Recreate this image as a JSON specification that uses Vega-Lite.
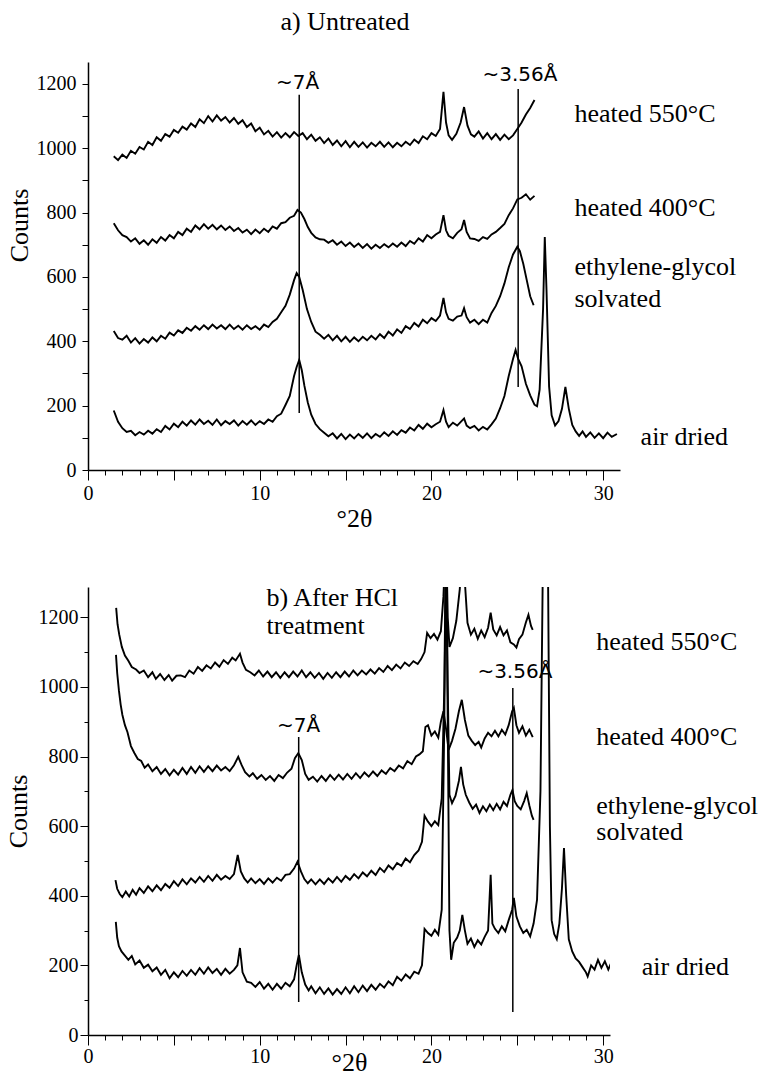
{
"$schema":"https://vega.github.io/schema/vega-lite/v6.json",
"padding":{"left":5,"top":9,"right":0,"bottom":0},
"background":"white",
"config":{"view":{"stroke":null},"axis":{"grid":false,"domainColor":"black","tickColor":"black","labelColor":"black","titleColor":"black","labelFont":"Liberation Serif","titleFont":"Liberation Serif","labelFontSize":20,"titleFontSize":26,"titleFontWeight":"normal","domainWidth":1.5,"tickWidth":1,"labelFlush":false,"labelOverlap":false,"format":"d"}},
"datasets":{
"A":[
{"s":"ad","x":1.5,"y":185},{"s":"ad","x":1.75,"y":150},{"s":"ad","x":2.0,"y":130},{"s":"ad","x":2.25,"y":118},{"s":"ad","x":2.5,"y":122},{"s":"ad","x":2.75,"y":108},{"s":"ad","x":3.0,"y":118},{"s":"ad","x":3.25,"y":110},{"s":"ad","x":3.5,"y":122},{"s":"ad","x":3.75,"y":113},{"s":"ad","x":4.0,"y":127},{"s":"ad","x":4.25,"y":118},{"s":"ad","x":4.5,"y":137},{"s":"ad","x":4.75,"y":126},{"s":"ad","x":5.0,"y":144},{"s":"ad","x":5.25,"y":133},{"s":"ad","x":5.5,"y":150},{"s":"ad","x":5.75,"y":138},{"s":"ad","x":6.0,"y":154},{"s":"ad","x":6.25,"y":141},{"s":"ad","x":6.5,"y":157},{"s":"ad","x":6.75,"y":143},{"s":"ad","x":7.0,"y":153},{"s":"ad","x":7.25,"y":140},{"s":"ad","x":7.5,"y":157},{"s":"ad","x":7.75,"y":139},{"s":"ad","x":8.0,"y":152},{"s":"ad","x":8.25,"y":143},{"s":"ad","x":8.5,"y":154},{"s":"ad","x":8.75,"y":138},{"s":"ad","x":9.0,"y":152},{"s":"ad","x":9.25,"y":141},{"s":"ad","x":9.5,"y":154},{"s":"ad","x":9.75,"y":140},{"s":"ad","x":10.0,"y":152},{"s":"ad","x":10.25,"y":143},{"s":"ad","x":10.5,"y":157},{"s":"ad","x":10.75,"y":150},{"s":"ad","x":11.0,"y":167},{"s":"ad","x":11.25,"y":175},{"s":"ad","x":11.5,"y":202},{"s":"ad","x":11.75,"y":230},{"s":"ad","x":12.0,"y":292},{"s":"ad","x":12.15,"y":320},{"s":"ad","x":12.3,"y":342},{"s":"ad","x":12.45,"y":310},{"s":"ad","x":12.6,"y":262},{"s":"ad","x":12.8,"y":210},{"s":"ad","x":13.0,"y":172},{"s":"ad","x":13.25,"y":143},{"s":"ad","x":13.5,"y":127},{"s":"ad","x":13.75,"y":116},{"s":"ad","x":14.0,"y":105},{"s":"ad","x":14.25,"y":114},{"s":"ad","x":14.5,"y":98},{"s":"ad","x":14.75,"y":112},{"s":"ad","x":15.0,"y":96},{"s":"ad","x":15.25,"y":110},{"s":"ad","x":15.5,"y":98},{"s":"ad","x":15.75,"y":112},{"s":"ad","x":16.0,"y":100},{"s":"ad","x":16.25,"y":114},{"s":"ad","x":16.5,"y":99},{"s":"ad","x":16.75,"y":112},{"s":"ad","x":17.0,"y":103},{"s":"ad","x":17.25,"y":117},{"s":"ad","x":17.5,"y":106},{"s":"ad","x":17.75,"y":120},{"s":"ad","x":18.0,"y":109},{"s":"ad","x":18.25,"y":124},{"s":"ad","x":18.5,"y":116},{"s":"ad","x":18.75,"y":132},{"s":"ad","x":19.0,"y":123},{"s":"ad","x":19.25,"y":140},{"s":"ad","x":19.5,"y":128},{"s":"ad","x":19.75,"y":144},{"s":"ad","x":20.0,"y":133},{"s":"ad","x":20.25,"y":142},{"s":"ad","x":20.5,"y":150},{"s":"ad","x":20.7,"y":186},{"s":"ad","x":20.85,"y":150},{"s":"ad","x":21.0,"y":133},{"s":"ad","x":21.25,"y":147},{"s":"ad","x":21.5,"y":138},{"s":"ad","x":21.75,"y":152},{"s":"ad","x":21.9,"y":160},{"s":"ad","x":22.05,"y":138},{"s":"ad","x":22.25,"y":130},{"s":"ad","x":22.5,"y":137},{"s":"ad","x":22.75,"y":123},{"s":"ad","x":23.0,"y":134},{"s":"ad","x":23.25,"y":126},{"s":"ad","x":23.5,"y":142},{"s":"ad","x":23.75,"y":160},{"s":"ad","x":24.0,"y":192},{"s":"ad","x":24.25,"y":230},{"s":"ad","x":24.5,"y":292},{"s":"ad","x":24.75,"y":345},{"s":"ad","x":24.9,"y":373},{"s":"ad","x":25.05,"y":345},{"s":"ad","x":25.25,"y":322},{"s":"ad","x":25.5,"y":268},{"s":"ad","x":25.75,"y":232},{"s":"ad","x":26.0,"y":203},{"s":"ad","x":26.15,"y":198},{"s":"ad","x":26.3,"y":250},{"s":"ad","x":26.5,"y":500},{"s":"ad","x":26.6,"y":724},{"s":"ad","x":26.7,"y":560},{"s":"ad","x":26.85,"y":260},{"s":"ad","x":27.0,"y":170},{"s":"ad","x":27.2,"y":138},{"s":"ad","x":27.4,"y":152},{"s":"ad","x":27.6,"y":190},{"s":"ad","x":27.8,"y":258},{"s":"ad","x":28.0,"y":190},{"s":"ad","x":28.2,"y":140},{"s":"ad","x":28.4,"y":120},{"s":"ad","x":28.6,"y":106},{"s":"ad","x":28.8,"y":120},{"s":"ad","x":29.0,"y":103},{"s":"ad","x":29.25,"y":117},{"s":"ad","x":29.5,"y":100},{"s":"ad","x":29.75,"y":114},{"s":"ad","x":30.0,"y":99},{"s":"ad","x":30.25,"y":116},{"s":"ad","x":30.5,"y":103},{"s":"ad","x":30.8,"y":112},
{"s":"eg","x":1.5,"y":432},{"s":"eg","x":1.75,"y":410},{"s":"eg","x":2.0,"y":405},{"s":"eg","x":2.25,"y":417},{"s":"eg","x":2.5,"y":396},{"s":"eg","x":2.75,"y":410},{"s":"eg","x":3.0,"y":393},{"s":"eg","x":3.25,"y":407},{"s":"eg","x":3.5,"y":396},{"s":"eg","x":3.75,"y":412},{"s":"eg","x":4.0,"y":400},{"s":"eg","x":4.25,"y":417},{"s":"eg","x":4.5,"y":408},{"s":"eg","x":4.75,"y":427},{"s":"eg","x":5.0,"y":418},{"s":"eg","x":5.25,"y":434},{"s":"eg","x":5.5,"y":426},{"s":"eg","x":5.75,"y":442},{"s":"eg","x":6.0,"y":433},{"s":"eg","x":6.25,"y":447},{"s":"eg","x":6.5,"y":436},{"s":"eg","x":6.75,"y":450},{"s":"eg","x":7.0,"y":438},{"s":"eg","x":7.25,"y":452},{"s":"eg","x":7.5,"y":440},{"s":"eg","x":7.75,"y":450},{"s":"eg","x":8.0,"y":438},{"s":"eg","x":8.25,"y":452},{"s":"eg","x":8.5,"y":438},{"s":"eg","x":8.75,"y":448},{"s":"eg","x":9.0,"y":436},{"s":"eg","x":9.25,"y":450},{"s":"eg","x":9.5,"y":438},{"s":"eg","x":9.75,"y":447},{"s":"eg","x":10.0,"y":436},{"s":"eg","x":10.25,"y":452},{"s":"eg","x":10.5,"y":444},{"s":"eg","x":10.75,"y":460},{"s":"eg","x":11.0,"y":470},{"s":"eg","x":11.25,"y":490},{"s":"eg","x":11.5,"y":510},{"s":"eg","x":11.75,"y":545},{"s":"eg","x":12.0,"y":590},{"s":"eg","x":12.15,"y":612},{"s":"eg","x":12.3,"y":600},{"s":"eg","x":12.5,"y":560},{"s":"eg","x":12.75,"y":500},{"s":"eg","x":13.0,"y":460},{"s":"eg","x":13.25,"y":430},{"s":"eg","x":13.5,"y":420},{"s":"eg","x":13.75,"y":408},{"s":"eg","x":14.0,"y":420},{"s":"eg","x":14.25,"y":403},{"s":"eg","x":14.5,"y":417},{"s":"eg","x":14.75,"y":400},{"s":"eg","x":15.0,"y":414},{"s":"eg","x":15.25,"y":398},{"s":"eg","x":15.5,"y":412},{"s":"eg","x":15.75,"y":400},{"s":"eg","x":16.0,"y":414},{"s":"eg","x":16.25,"y":403},{"s":"eg","x":16.5,"y":417},{"s":"eg","x":16.75,"y":406},{"s":"eg","x":17.0,"y":422},{"s":"eg","x":17.25,"y":410},{"s":"eg","x":17.5,"y":430},{"s":"eg","x":17.75,"y":418},{"s":"eg","x":18.0,"y":437},{"s":"eg","x":18.25,"y":426},{"s":"eg","x":18.5,"y":447},{"s":"eg","x":18.75,"y":438},{"s":"eg","x":19.0,"y":457},{"s":"eg","x":19.25,"y":446},{"s":"eg","x":19.5,"y":467},{"s":"eg","x":19.75,"y":456},{"s":"eg","x":20.0,"y":472},{"s":"eg","x":20.25,"y":463},{"s":"eg","x":20.5,"y":480},{"s":"eg","x":20.7,"y":535},{"s":"eg","x":20.85,"y":490},{"s":"eg","x":21.0,"y":470},{"s":"eg","x":21.25,"y":464},{"s":"eg","x":21.5,"y":477},{"s":"eg","x":21.75,"y":480},{"s":"eg","x":21.9,"y":503},{"s":"eg","x":22.05,"y":475},{"s":"eg","x":22.25,"y":458},{"s":"eg","x":22.5,"y":467},{"s":"eg","x":22.75,"y":453},{"s":"eg","x":23.0,"y":467},{"s":"eg","x":23.25,"y":458},{"s":"eg","x":23.5,"y":488},{"s":"eg","x":23.75,"y":510},{"s":"eg","x":24.0,"y":540},{"s":"eg","x":24.25,"y":580},{"s":"eg","x":24.5,"y":630},{"s":"eg","x":24.75,"y":670},{"s":"eg","x":25.0,"y":694},{"s":"eg","x":25.15,"y":680},{"s":"eg","x":25.35,"y":640},{"s":"eg","x":25.55,"y":590},{"s":"eg","x":25.75,"y":540},{"s":"eg","x":25.95,"y":512},
{"s":"h4","x":1.5,"y":767},{"s":"h4","x":1.75,"y":745},{"s":"h4","x":2.0,"y":730},{"s":"h4","x":2.25,"y":724},{"s":"h4","x":2.5,"y":710},{"s":"h4","x":2.75,"y":720},{"s":"h4","x":3.0,"y":703},{"s":"h4","x":3.25,"y":714},{"s":"h4","x":3.5,"y":700},{"s":"h4","x":3.75,"y":717},{"s":"h4","x":4.0,"y":706},{"s":"h4","x":4.25,"y":724},{"s":"h4","x":4.5,"y":713},{"s":"h4","x":4.75,"y":730},{"s":"h4","x":5.0,"y":720},{"s":"h4","x":5.25,"y":740},{"s":"h4","x":5.5,"y":730},{"s":"h4","x":5.75,"y":750},{"s":"h4","x":6.0,"y":740},{"s":"h4","x":6.25,"y":760},{"s":"h4","x":6.5,"y":748},{"s":"h4","x":6.75,"y":764},{"s":"h4","x":7.0,"y":750},{"s":"h4","x":7.25,"y":762},{"s":"h4","x":7.5,"y":748},{"s":"h4","x":7.75,"y":760},{"s":"h4","x":8.0,"y":746},{"s":"h4","x":8.25,"y":757},{"s":"h4","x":8.5,"y":743},{"s":"h4","x":8.75,"y":752},{"s":"h4","x":9.0,"y":738},{"s":"h4","x":9.25,"y":747},{"s":"h4","x":9.5,"y":733},{"s":"h4","x":9.75,"y":747},{"s":"h4","x":10.0,"y":736},{"s":"h4","x":10.25,"y":750},{"s":"h4","x":10.5,"y":740},{"s":"h4","x":10.75,"y":757},{"s":"h4","x":11.0,"y":750},{"s":"h4","x":11.25,"y":767},{"s":"h4","x":11.5,"y":770},{"s":"h4","x":11.75,"y":784},{"s":"h4","x":12.0,"y":790},{"s":"h4","x":12.2,"y":808},{"s":"h4","x":12.4,"y":800},{"s":"h4","x":12.6,"y":780},{"s":"h4","x":12.8,"y":755},{"s":"h4","x":13.0,"y":737},{"s":"h4","x":13.25,"y":723},{"s":"h4","x":13.5,"y":717},{"s":"h4","x":13.75,"y":716},{"s":"h4","x":14.0,"y":706},{"s":"h4","x":14.25,"y":714},{"s":"h4","x":14.5,"y":700},{"s":"h4","x":14.75,"y":710},{"s":"h4","x":15.0,"y":696},{"s":"h4","x":15.25,"y":707},{"s":"h4","x":15.5,"y":693},{"s":"h4","x":15.75,"y":704},{"s":"h4","x":16.0,"y":690},{"s":"h4","x":16.25,"y":702},{"s":"h4","x":16.5,"y":688},{"s":"h4","x":16.75,"y":700},{"s":"h4","x":17.0,"y":690},{"s":"h4","x":17.25,"y":702},{"s":"h4","x":17.5,"y":692},{"s":"h4","x":17.75,"y":704},{"s":"h4","x":18.0,"y":694},{"s":"h4","x":18.25,"y":707},{"s":"h4","x":18.5,"y":696},{"s":"h4","x":18.75,"y":712},{"s":"h4","x":19.0,"y":703},{"s":"h4","x":19.25,"y":720},{"s":"h4","x":19.5,"y":710},{"s":"h4","x":19.75,"y":730},{"s":"h4","x":20.0,"y":720},{"s":"h4","x":20.25,"y":732},{"s":"h4","x":20.5,"y":740},{"s":"h4","x":20.7,"y":792},{"s":"h4","x":20.85,"y":745},{"s":"h4","x":21.0,"y":728},{"s":"h4","x":21.25,"y":720},{"s":"h4","x":21.5,"y":737},{"s":"h4","x":21.75,"y":748},{"s":"h4","x":21.9,"y":777},{"s":"h4","x":22.05,"y":740},{"s":"h4","x":22.25,"y":720},{"s":"h4","x":22.5,"y":718},{"s":"h4","x":22.75,"y":712},{"s":"h4","x":23.0,"y":724},{"s":"h4","x":23.25,"y":718},{"s":"h4","x":23.5,"y":732},{"s":"h4","x":23.75,"y":740},{"s":"h4","x":24.0,"y":752},{"s":"h4","x":24.25,"y":765},{"s":"h4","x":24.5,"y":792},{"s":"h4","x":24.75,"y":813},{"s":"h4","x":25.0,"y":841},{"s":"h4","x":25.25,"y":846},{"s":"h4","x":25.5,"y":857},{"s":"h4","x":25.75,"y":840},{"s":"h4","x":26.0,"y":852},
{"s":"h5","x":1.5,"y":975},{"s":"h5","x":1.75,"y":963},{"s":"h5","x":2.0,"y":980},{"s":"h5","x":2.25,"y":970},{"s":"h5","x":2.5,"y":992},{"s":"h5","x":2.75,"y":983},{"s":"h5","x":3.0,"y":1004},{"s":"h5","x":3.25,"y":996},{"s":"h5","x":3.5,"y":1020},{"s":"h5","x":3.75,"y":1010},{"s":"h5","x":4.0,"y":1034},{"s":"h5","x":4.25,"y":1023},{"s":"h5","x":4.5,"y":1044},{"s":"h5","x":4.75,"y":1036},{"s":"h5","x":5.0,"y":1057},{"s":"h5","x":5.25,"y":1048},{"s":"h5","x":5.5,"y":1067},{"s":"h5","x":5.75,"y":1058},{"s":"h5","x":6.0,"y":1077},{"s":"h5","x":6.25,"y":1066},{"s":"h5","x":6.5,"y":1090},{"s":"h5","x":6.75,"y":1078},{"s":"h5","x":7.0,"y":1100},{"s":"h5","x":7.25,"y":1083},{"s":"h5","x":7.5,"y":1102},{"s":"h5","x":7.75,"y":1086},{"s":"h5","x":8.0,"y":1097},{"s":"h5","x":8.25,"y":1080},{"s":"h5","x":8.5,"y":1094},{"s":"h5","x":8.75,"y":1076},{"s":"h5","x":9.0,"y":1087},{"s":"h5","x":9.25,"y":1066},{"s":"h5","x":9.5,"y":1077},{"s":"h5","x":9.75,"y":1053},{"s":"h5","x":10.0,"y":1064},{"s":"h5","x":10.25,"y":1043},{"s":"h5","x":10.5,"y":1054},{"s":"h5","x":10.75,"y":1036},{"s":"h5","x":11.0,"y":1050},{"s":"h5","x":11.25,"y":1033},{"s":"h5","x":11.5,"y":1047},{"s":"h5","x":11.75,"y":1034},{"s":"h5","x":12.0,"y":1050},{"s":"h5","x":12.25,"y":1038},{"s":"h5","x":12.5,"y":1047},{"s":"h5","x":12.75,"y":1028},{"s":"h5","x":13.0,"y":1042},{"s":"h5","x":13.25,"y":1023},{"s":"h5","x":13.5,"y":1034},{"s":"h5","x":13.75,"y":1016},{"s":"h5","x":14.0,"y":1030},{"s":"h5","x":14.25,"y":1010},{"s":"h5","x":14.5,"y":1024},{"s":"h5","x":14.75,"y":1006},{"s":"h5","x":15.0,"y":1022},{"s":"h5","x":15.25,"y":1003},{"s":"h5","x":15.5,"y":1020},{"s":"h5","x":15.75,"y":1004},{"s":"h5","x":16.0,"y":1018},{"s":"h5","x":16.25,"y":1002},{"s":"h5","x":16.5,"y":1017},{"s":"h5","x":16.75,"y":1006},{"s":"h5","x":17.0,"y":1020},{"s":"h5","x":17.25,"y":1004},{"s":"h5","x":17.5,"y":1018},{"s":"h5","x":17.75,"y":1003},{"s":"h5","x":18.0,"y":1017},{"s":"h5","x":18.25,"y":1006},{"s":"h5","x":18.5,"y":1020},{"s":"h5","x":18.75,"y":1010},{"s":"h5","x":19.0,"y":1027},{"s":"h5","x":19.25,"y":1016},{"s":"h5","x":19.5,"y":1037},{"s":"h5","x":19.75,"y":1028},{"s":"h5","x":20.0,"y":1047},{"s":"h5","x":20.25,"y":1038},{"s":"h5","x":20.5,"y":1060},{"s":"h5","x":20.7,"y":1175},{"s":"h5","x":20.85,"y":1080},{"s":"h5","x":21.0,"y":1040},{"s":"h5","x":21.2,"y":1026},{"s":"h5","x":21.45,"y":1045},{"s":"h5","x":21.7,"y":1080},{"s":"h5","x":21.9,"y":1128},{"s":"h5","x":22.1,"y":1070},{"s":"h5","x":22.3,"y":1043},{"s":"h5","x":22.5,"y":1036},{"s":"h5","x":22.75,"y":1052},{"s":"h5","x":23.0,"y":1030},{"s":"h5","x":23.25,"y":1047},{"s":"h5","x":23.5,"y":1028},{"s":"h5","x":23.75,"y":1044},{"s":"h5","x":24.0,"y":1026},{"s":"h5","x":24.25,"y":1042},{"s":"h5","x":24.5,"y":1028},{"s":"h5","x":24.75,"y":1040},{"s":"h5","x":25.0,"y":1060},{"s":"h5","x":25.25,"y":1080},{"s":"h5","x":25.5,"y":1105},{"s":"h5","x":25.75,"y":1125},{"s":"h5","x":26.0,"y":1150}
],
"B":[
{"s":"ad","x":1.62,"y":325},{"s":"ad","x":1.7,"y":280},{"s":"ad","x":1.8,"y":255},{"s":"ad","x":1.95,"y":240},{"s":"ad","x":2.15,"y":228},{"s":"ad","x":2.35,"y":216},{"s":"ad","x":2.55,"y":227},{"s":"ad","x":2.75,"y":203},{"s":"ad","x":3.0,"y":214},{"s":"ad","x":3.25,"y":193},{"s":"ad","x":3.5,"y":202},{"s":"ad","x":3.75,"y":183},{"s":"ad","x":4.0,"y":194},{"s":"ad","x":4.25,"y":173},{"s":"ad","x":4.5,"y":187},{"s":"ad","x":4.75,"y":163},{"s":"ad","x":5.0,"y":180},{"s":"ad","x":5.25,"y":166},{"s":"ad","x":5.5,"y":184},{"s":"ad","x":5.75,"y":170},{"s":"ad","x":6.0,"y":187},{"s":"ad","x":6.25,"y":173},{"s":"ad","x":6.5,"y":192},{"s":"ad","x":6.75,"y":176},{"s":"ad","x":7.0,"y":194},{"s":"ad","x":7.25,"y":178},{"s":"ad","x":7.5,"y":190},{"s":"ad","x":7.75,"y":173},{"s":"ad","x":8.0,"y":190},{"s":"ad","x":8.25,"y":176},{"s":"ad","x":8.5,"y":187},{"s":"ad","x":8.7,"y":200},{"s":"ad","x":8.85,"y":250},{"s":"ad","x":9.0,"y":180},{"s":"ad","x":9.25,"y":153},{"s":"ad","x":9.5,"y":150},{"s":"ad","x":9.75,"y":138},{"s":"ad","x":10.0,"y":152},{"s":"ad","x":10.25,"y":133},{"s":"ad","x":10.5,"y":147},{"s":"ad","x":10.75,"y":130},{"s":"ad","x":11.0,"y":147},{"s":"ad","x":11.25,"y":133},{"s":"ad","x":11.5,"y":150},{"s":"ad","x":11.75,"y":140},{"s":"ad","x":12.0,"y":160},{"s":"ad","x":12.15,"y":200},{"s":"ad","x":12.28,"y":230},{"s":"ad","x":12.45,"y":180},{"s":"ad","x":12.65,"y":145},{"s":"ad","x":12.85,"y":128},{"s":"ad","x":13.0,"y":140},{"s":"ad","x":13.25,"y":120},{"s":"ad","x":13.5,"y":137},{"s":"ad","x":13.75,"y":118},{"s":"ad","x":14.0,"y":134},{"s":"ad","x":14.25,"y":116},{"s":"ad","x":14.5,"y":132},{"s":"ad","x":14.75,"y":118},{"s":"ad","x":15.0,"y":137},{"s":"ad","x":15.25,"y":120},{"s":"ad","x":15.5,"y":140},{"s":"ad","x":15.75,"y":123},{"s":"ad","x":16.0,"y":142},{"s":"ad","x":16.25,"y":126},{"s":"ad","x":16.5,"y":144},{"s":"ad","x":16.75,"y":130},{"s":"ad","x":17.0,"y":147},{"s":"ad","x":17.25,"y":136},{"s":"ad","x":17.5,"y":154},{"s":"ad","x":17.75,"y":143},{"s":"ad","x":18.0,"y":167},{"s":"ad","x":18.25,"y":156},{"s":"ad","x":18.5,"y":174},{"s":"ad","x":18.75,"y":163},{"s":"ad","x":19.0,"y":182},{"s":"ad","x":19.25,"y":176},{"s":"ad","x":19.45,"y":200},{"s":"ad","x":19.6,"y":305},{"s":"ad","x":19.8,"y":293},{"s":"ad","x":20.0,"y":285},{"s":"ad","x":20.2,"y":302},{"s":"ad","x":20.4,"y":288},{"s":"ad","x":20.6,"y":360},{"s":"ad","x":20.75,"y":900},{"s":"ad","x":20.85,"y":1450},{"s":"ad","x":20.95,"y":900},{"s":"ad","x":21.05,"y":300},{"s":"ad","x":21.15,"y":216},{"s":"ad","x":21.3,"y":265},{"s":"ad","x":21.5,"y":280},{"s":"ad","x":21.65,"y":300},{"s":"ad","x":21.8,"y":345},{"s":"ad","x":21.95,"y":300},{"s":"ad","x":22.1,"y":262},{"s":"ad","x":22.3,"y":277},{"s":"ad","x":22.5,"y":253},{"s":"ad","x":22.7,"y":272},{"s":"ad","x":22.9,"y":260},{"s":"ad","x":23.1,"y":282},{"s":"ad","x":23.3,"y":300},{"s":"ad","x":23.45,"y":460},{"s":"ad","x":23.55,"y":320},{"s":"ad","x":23.7,"y":305},{"s":"ad","x":23.9,"y":293},{"s":"ad","x":24.1,"y":312},{"s":"ad","x":24.3,"y":298},{"s":"ad","x":24.5,"y":330},{"s":"ad","x":24.7,"y":360},{"s":"ad","x":24.8,"y":394},{"s":"ad","x":24.95,"y":340},{"s":"ad","x":25.15,"y":312},{"s":"ad","x":25.35,"y":293},{"s":"ad","x":25.55,"y":302},{"s":"ad","x":25.75,"y":283},{"s":"ad","x":25.95,"y":320},{"s":"ad","x":26.15,"y":388},{"s":"ad","x":26.35,"y":700},{"s":"ad","x":26.5,"y":1400},{"s":"ad","x":26.64,"y":1600},{"s":"ad","x":26.78,"y":1400},{"s":"ad","x":26.9,"y":600},{"s":"ad","x":27.0,"y":330},{"s":"ad","x":27.15,"y":290},{"s":"ad","x":27.3,"y":275},{"s":"ad","x":27.45,"y":320},{"s":"ad","x":27.6,"y":420},{"s":"ad","x":27.72,"y":537},{"s":"ad","x":27.85,"y":400},{"s":"ad","x":28.0,"y":275},{"s":"ad","x":28.2,"y":240},{"s":"ad","x":28.4,"y":220},{"s":"ad","x":28.6,"y":210},{"s":"ad","x":28.8,"y":195},{"s":"ad","x":29.0,"y":180},{"s":"ad","x":29.1,"y":168},{"s":"ad","x":29.3,"y":200},{"s":"ad","x":29.5,"y":188},{"s":"ad","x":29.7,"y":216},{"s":"ad","x":29.9,"y":193},{"s":"ad","x":30.1,"y":212},{"s":"ad","x":30.3,"y":188},{"s":"ad","x":30.45,"y":205},
{"s":"eg","x":1.6,"y":445},{"s":"eg","x":1.7,"y":420},{"s":"eg","x":1.85,"y":405},{"s":"eg","x":2.0,"y":396},{"s":"eg","x":2.2,"y":412},{"s":"eg","x":2.4,"y":398},{"s":"eg","x":2.6,"y":417},{"s":"eg","x":2.8,"y":403},{"s":"eg","x":3.0,"y":422},{"s":"eg","x":3.25,"y":408},{"s":"eg","x":3.5,"y":427},{"s":"eg","x":3.75,"y":413},{"s":"eg","x":4.0,"y":430},{"s":"eg","x":4.25,"y":416},{"s":"eg","x":4.5,"y":434},{"s":"eg","x":4.75,"y":423},{"s":"eg","x":5.0,"y":442},{"s":"eg","x":5.25,"y":428},{"s":"eg","x":5.5,"y":447},{"s":"eg","x":5.75,"y":433},{"s":"eg","x":6.0,"y":450},{"s":"eg","x":6.25,"y":438},{"s":"eg","x":6.5,"y":454},{"s":"eg","x":6.75,"y":440},{"s":"eg","x":7.0,"y":457},{"s":"eg","x":7.25,"y":443},{"s":"eg","x":7.5,"y":460},{"s":"eg","x":7.75,"y":446},{"s":"eg","x":8.0,"y":457},{"s":"eg","x":8.25,"y":448},{"s":"eg","x":8.5,"y":462},{"s":"eg","x":8.72,"y":517},{"s":"eg","x":8.9,"y":470},{"s":"eg","x":9.1,"y":450},{"s":"eg","x":9.3,"y":438},{"s":"eg","x":9.5,"y":450},{"s":"eg","x":9.75,"y":436},{"s":"eg","x":10.0,"y":448},{"s":"eg","x":10.25,"y":434},{"s":"eg","x":10.5,"y":450},{"s":"eg","x":10.75,"y":438},{"s":"eg","x":11.0,"y":452},{"s":"eg","x":11.25,"y":443},{"s":"eg","x":11.5,"y":460},{"s":"eg","x":11.75,"y":462},{"s":"eg","x":12.0,"y":478},{"s":"eg","x":12.2,"y":498},{"s":"eg","x":12.4,"y":470},{"s":"eg","x":12.6,"y":448},{"s":"eg","x":12.8,"y":436},{"s":"eg","x":13.0,"y":447},{"s":"eg","x":13.25,"y":433},{"s":"eg","x":13.5,"y":447},{"s":"eg","x":13.75,"y":434},{"s":"eg","x":14.0,"y":450},{"s":"eg","x":14.25,"y":438},{"s":"eg","x":14.5,"y":454},{"s":"eg","x":14.75,"y":440},{"s":"eg","x":15.0,"y":457},{"s":"eg","x":15.25,"y":446},{"s":"eg","x":15.5,"y":462},{"s":"eg","x":15.75,"y":450},{"s":"eg","x":16.0,"y":467},{"s":"eg","x":16.25,"y":456},{"s":"eg","x":16.5,"y":472},{"s":"eg","x":16.75,"y":460},{"s":"eg","x":17.0,"y":480},{"s":"eg","x":17.25,"y":468},{"s":"eg","x":17.5,"y":487},{"s":"eg","x":17.75,"y":476},{"s":"eg","x":18.0,"y":494},{"s":"eg","x":18.25,"y":486},{"s":"eg","x":18.5,"y":507},{"s":"eg","x":18.75,"y":496},{"s":"eg","x":19.0,"y":517},{"s":"eg","x":19.25,"y":530},{"s":"eg","x":19.45,"y":555},{"s":"eg","x":19.6,"y":630},{"s":"eg","x":19.8,"y":613},{"s":"eg","x":20.0,"y":600},{"s":"eg","x":20.2,"y":614},{"s":"eg","x":20.4,"y":603},{"s":"eg","x":20.6,"y":680},{"s":"eg","x":20.75,"y":1000},{"s":"eg","x":20.85,"y":1450},{"s":"eg","x":20.95,"y":1000},{"s":"eg","x":21.05,"y":690},{"s":"eg","x":21.2,"y":666},{"s":"eg","x":21.4,"y":687},{"s":"eg","x":21.6,"y":730},{"s":"eg","x":21.72,"y":770},{"s":"eg","x":21.85,"y":720},{"s":"eg","x":22.0,"y":690},{"s":"eg","x":22.2,"y":668},{"s":"eg","x":22.4,"y":650},{"s":"eg","x":22.6,"y":662},{"s":"eg","x":22.8,"y":638},{"s":"eg","x":23.0,"y":657},{"s":"eg","x":23.2,"y":643},{"s":"eg","x":23.4,"y":662},{"s":"eg","x":23.6,"y":646},{"s":"eg","x":23.8,"y":664},{"s":"eg","x":24.0,"y":648},{"s":"eg","x":24.2,"y":670},{"s":"eg","x":24.4,"y":658},{"s":"eg","x":24.6,"y":690},{"s":"eg","x":24.72,"y":704},{"s":"eg","x":24.85,"y":672},{"s":"eg","x":25.0,"y":658},{"s":"eg","x":25.2,"y":648},{"s":"eg","x":25.4,"y":672},{"s":"eg","x":25.55,"y":695},{"s":"eg","x":25.7,"y":660},{"s":"eg","x":25.85,"y":630},{"s":"eg","x":25.95,"y":618},
{"s":"h4","x":1.63,"y":1092},{"s":"h4","x":1.7,"y":1040},{"s":"h4","x":1.8,"y":990},{"s":"h4","x":1.9,"y":950},{"s":"h4","x":2.0,"y":920},{"s":"h4","x":2.15,"y":890},{"s":"h4","x":2.3,"y":870},{"s":"h4","x":2.5,"y":830},{"s":"h4","x":2.7,"y":810},{"s":"h4","x":2.9,"y":793},{"s":"h4","x":3.1,"y":787},{"s":"h4","x":3.3,"y":768},{"s":"h4","x":3.5,"y":777},{"s":"h4","x":3.75,"y":758},{"s":"h4","x":4.0,"y":770},{"s":"h4","x":4.25,"y":750},{"s":"h4","x":4.5,"y":764},{"s":"h4","x":4.75,"y":746},{"s":"h4","x":5.0,"y":762},{"s":"h4","x":5.25,"y":748},{"s":"h4","x":5.5,"y":767},{"s":"h4","x":5.75,"y":750},{"s":"h4","x":6.0,"y":770},{"s":"h4","x":6.25,"y":753},{"s":"h4","x":6.5,"y":772},{"s":"h4","x":6.75,"y":756},{"s":"h4","x":7.0,"y":772},{"s":"h4","x":7.25,"y":758},{"s":"h4","x":7.5,"y":774},{"s":"h4","x":7.75,"y":760},{"s":"h4","x":8.0,"y":770},{"s":"h4","x":8.25,"y":758},{"s":"h4","x":8.5,"y":775},{"s":"h4","x":8.75,"y":799},{"s":"h4","x":8.95,"y":775},{"s":"h4","x":9.15,"y":755},{"s":"h4","x":9.4,"y":743},{"s":"h4","x":9.6,"y":752},{"s":"h4","x":9.85,"y":736},{"s":"h4","x":10.1,"y":747},{"s":"h4","x":10.35,"y":733},{"s":"h4","x":10.6,"y":744},{"s":"h4","x":10.85,"y":730},{"s":"h4","x":11.1,"y":747},{"s":"h4","x":11.35,"y":738},{"s":"h4","x":11.6,"y":754},{"s":"h4","x":11.85,"y":765},{"s":"h4","x":12.05,"y":795},{"s":"h4","x":12.25,"y":810},{"s":"h4","x":12.45,"y":790},{"s":"h4","x":12.65,"y":750},{"s":"h4","x":12.85,"y":733},{"s":"h4","x":13.1,"y":742},{"s":"h4","x":13.35,"y":728},{"s":"h4","x":13.6,"y":744},{"s":"h4","x":13.85,"y":730},{"s":"h4","x":14.1,"y":747},{"s":"h4","x":14.35,"y":733},{"s":"h4","x":14.6,"y":748},{"s":"h4","x":14.85,"y":734},{"s":"h4","x":15.1,"y":750},{"s":"h4","x":15.35,"y":736},{"s":"h4","x":15.6,"y":752},{"s":"h4","x":15.85,"y":738},{"s":"h4","x":16.1,"y":754},{"s":"h4","x":16.35,"y":742},{"s":"h4","x":16.6,"y":757},{"s":"h4","x":16.85,"y":744},{"s":"h4","x":17.1,"y":760},{"s":"h4","x":17.35,"y":750},{"s":"h4","x":17.6,"y":767},{"s":"h4","x":17.85,"y":758},{"s":"h4","x":18.1,"y":774},{"s":"h4","x":18.35,"y":766},{"s":"h4","x":18.6,"y":787},{"s":"h4","x":18.85,"y":778},{"s":"h4","x":19.1,"y":800},{"s":"h4","x":19.3,"y":806},{"s":"h4","x":19.5,"y":815},{"s":"h4","x":19.65,"y":885},{"s":"h4","x":19.8,"y":890},{"s":"h4","x":20.0,"y":860},{"s":"h4","x":20.2,"y":872},{"s":"h4","x":20.4,"y":854},{"s":"h4","x":20.55,"y":900},{"s":"h4","x":20.7,"y":930},{"s":"h4","x":20.85,"y":880},{"s":"h4","x":21.0,"y":819},{"s":"h4","x":21.2,"y":845},{"s":"h4","x":21.4,"y":880},{"s":"h4","x":21.6,"y":930},{"s":"h4","x":21.77,"y":963},{"s":"h4","x":21.95,"y":905},{"s":"h4","x":22.15,"y":860},{"s":"h4","x":22.35,"y":845},{"s":"h4","x":22.55,"y":833},{"s":"h4","x":22.75,"y":842},{"s":"h4","x":22.9,"y":826},{"s":"h4","x":23.1,"y":852},{"s":"h4","x":23.3,"y":868},{"s":"h4","x":23.5,"y":858},{"s":"h4","x":23.7,"y":874},{"s":"h4","x":23.9,"y":858},{"s":"h4","x":24.1,"y":877},{"s":"h4","x":24.3,"y":863},{"s":"h4","x":24.5,"y":890},{"s":"h4","x":24.7,"y":930},{"s":"h4","x":24.8,"y":940},{"s":"h4","x":24.95,"y":890},{"s":"h4","x":25.1,"y":868},{"s":"h4","x":25.3,"y":887},{"s":"h4","x":25.5,"y":860},{"s":"h4","x":25.7,"y":877},{"s":"h4","x":25.9,"y":856},
{"s":"h5","x":1.64,"y":1227},{"s":"h5","x":1.72,"y":1180},{"s":"h5","x":1.82,"y":1150},{"s":"h5","x":1.97,"y":1115},{"s":"h5","x":2.15,"y":1090},{"s":"h5","x":2.35,"y":1075},{"s":"h5","x":2.55,"y":1057},{"s":"h5","x":2.8,"y":1050},{"s":"h5","x":3.0,"y":1040},{"s":"h5","x":3.25,"y":1047},{"s":"h5","x":3.5,"y":1028},{"s":"h5","x":3.75,"y":1042},{"s":"h5","x":3.95,"y":1023},{"s":"h5","x":4.2,"y":1037},{"s":"h5","x":4.45,"y":1020},{"s":"h5","x":4.7,"y":1034},{"s":"h5","x":4.9,"y":1018},{"s":"h5","x":5.15,"y":1032},{"s":"h5","x":5.4,"y":1033},{"s":"h5","x":5.65,"y":1028},{"s":"h5","x":5.9,"y":1047},{"s":"h5","x":6.15,"y":1038},{"s":"h5","x":6.4,"y":1057},{"s":"h5","x":6.65,"y":1046},{"s":"h5","x":6.9,"y":1062},{"s":"h5","x":7.15,"y":1053},{"s":"h5","x":7.4,"y":1070},{"s":"h5","x":7.65,"y":1058},{"s":"h5","x":7.9,"y":1077},{"s":"h5","x":8.15,"y":1066},{"s":"h5","x":8.4,"y":1084},{"s":"h5","x":8.6,"y":1076},{"s":"h5","x":8.85,"y":1095},{"s":"h5","x":9.0,"y":1070},{"s":"h5","x":9.2,"y":1049},{"s":"h5","x":9.45,"y":1042},{"s":"h5","x":9.7,"y":1033},{"s":"h5","x":9.95,"y":1047},{"s":"h5","x":10.2,"y":1030},{"s":"h5","x":10.45,"y":1044},{"s":"h5","x":10.7,"y":1028},{"s":"h5","x":10.95,"y":1042},{"s":"h5","x":11.2,"y":1026},{"s":"h5","x":11.45,"y":1042},{"s":"h5","x":11.7,"y":1028},{"s":"h5","x":11.95,"y":1044},{"s":"h5","x":12.2,"y":1030},{"s":"h5","x":12.45,"y":1047},{"s":"h5","x":12.7,"y":1028},{"s":"h5","x":12.95,"y":1042},{"s":"h5","x":13.2,"y":1026},{"s":"h5","x":13.45,"y":1040},{"s":"h5","x":13.7,"y":1023},{"s":"h5","x":13.95,"y":1040},{"s":"h5","x":14.2,"y":1026},{"s":"h5","x":14.45,"y":1042},{"s":"h5","x":14.7,"y":1028},{"s":"h5","x":14.95,"y":1044},{"s":"h5","x":15.2,"y":1030},{"s":"h5","x":15.45,"y":1047},{"s":"h5","x":15.7,"y":1033},{"s":"h5","x":15.95,"y":1047},{"s":"h5","x":16.2,"y":1036},{"s":"h5","x":16.45,"y":1050},{"s":"h5","x":16.7,"y":1038},{"s":"h5","x":16.95,"y":1054},{"s":"h5","x":17.2,"y":1043},{"s":"h5","x":17.45,"y":1060},{"s":"h5","x":17.7,"y":1048},{"s":"h5","x":17.95,"y":1064},{"s":"h5","x":18.2,"y":1053},{"s":"h5","x":18.45,"y":1070},{"s":"h5","x":18.7,"y":1060},{"s":"h5","x":18.95,"y":1074},{"s":"h5","x":19.2,"y":1066},{"s":"h5","x":19.4,"y":1080},{"s":"h5","x":19.6,"y":1100},{"s":"h5","x":19.75,"y":1155},{"s":"h5","x":19.95,"y":1140},{"s":"h5","x":20.15,"y":1152},{"s":"h5","x":20.35,"y":1136},{"s":"h5","x":20.55,"y":1160},{"s":"h5","x":20.7,"y":1260},{"s":"h5","x":20.85,"y":1450},{"s":"h5","x":20.95,"y":1200},{"s":"h5","x":21.05,"y":1115},{"s":"h5","x":21.25,"y":1140},{"s":"h5","x":21.45,"y":1190},{"s":"h5","x":21.65,"y":1280},{"s":"h5","x":21.8,"y":1400},{"s":"h5","x":21.95,"y":1300},{"s":"h5","x":22.1,"y":1184},{"s":"h5","x":22.3,"y":1150},{"s":"h5","x":22.5,"y":1167},{"s":"h5","x":22.7,"y":1138},{"s":"h5","x":22.9,"y":1162},{"s":"h5","x":23.1,"y":1143},{"s":"h5","x":23.3,"y":1170},{"s":"h5","x":23.45,"y":1213},{"s":"h5","x":23.6,"y":1165},{"s":"h5","x":23.8,"y":1148},{"s":"h5","x":24.0,"y":1172},{"s":"h5","x":24.2,"y":1148},{"s":"h5","x":24.4,"y":1162},{"s":"h5","x":24.6,"y":1128},{"s":"h5","x":24.8,"y":1122},{"s":"h5","x":24.95,"y":1113},{"s":"h5","x":25.1,"y":1137},{"s":"h5","x":25.3,"y":1150},{"s":"h5","x":25.5,"y":1185},{"s":"h5","x":25.65,"y":1207},{"s":"h5","x":25.8,"y":1175},{"s":"h5","x":25.9,"y":1164}
],
"AR":[{"x":12.3,"y":177,"y2":1166},{"x":25.05,"y":258,"y2":1184}],
"BR":[{"x":12.27,"y":95,"y2":856},{"x":24.74,"y":66,"y2":997}],
"AL":[{"x":12.2,"y":1203,"t":"~7Å"},{"x":25.15,"y":1229,"t":"~3.56Å"}],
"BL":[{"x":12.27,"y":888,"t":"~7Å"},{"x":24.86,"y":1043,"t":"~3.56Å"}],
"AS":[{"x":28.33,"y":1107,"t":"heated 550°C"},{"x":28.33,"y":814,"t":"heated 400°C"},{"x":28.33,"y":632,"t":"ethylene-glycol"},{"x":28.33,"y":531,"t":"solvated"},{"x":32.18,"y":104,"t":"air dried"}],
"BS":[{"x":29.6,"y":1128,"t":"heated 550°C"},{"x":29.6,"y":857,"t":"heated 400°C"},{"x":29.6,"y":659,"t":"ethylene-glycol"},{"x":29.6,"y":584,"t":"solvated"},{"x":32.25,"y":195,"t":"air dried"},{"x":10.4,"y":1256,"t":"b) After HCl"},{"x":10.4,"y":1175,"t":"treatment"}]
},
"vconcat":[
{
"width":532,"height":408,
"title":{"text":"a) Untreated","font":"Liberation Serif","fontSize":26,"fontWeight":"normal","color":"black","anchor":"middle","dx":-9,"offset":27},
"encoding":{
"x":{"field":"x","type":"quantitative","scale":{"domain":[0,30.98],"nice":false,"zero":false},"axis":{"values":[0,1,2,3,4,5,6,7,8,9,10,11,12,13,14,15,16,17,18,19,20,21,22,23,24,25,26,27,28,29,30],"tickSize":{"condition":{"test":"datum.value % 5 === 0","value":10},"value":5},"labelExpr":"datum.value % 10 === 0 ? datum.label : ''","title":"°2θ","labelPadding":3,"titlePadding":2}},
"y":{"field":"y","type":"quantitative","scale":{"domain":[0,1268],"nice":false,"zero":false},"axis":{"values":[0,100,200,300,400,500,600,700,800,900,1000,1100,1200],"tickSize":6,"labelExpr":"datum.value % 200 === 0 ? datum.label : ''","title":"Counts","titlePadding":4,"titleY":163,"labelPadding":6}}
},
"layer":[
{"data":{"name":"A"},"mark":{"type":"line","color":"black","strokeWidth":1.9,"clip":true},"encoding":{"detail":{"field":"s"}}},
{"data":{"name":"AR"},"mark":{"type":"rule","color":"black","strokeWidth":1.5},"encoding":{"y2":{"field":"y2"}}},
{"data":{"name":"AL"},"mark":{"type":"text","font":"DejaVu Sans","fontSize":20,"align":"center","baseline":"middle","color":"black"},"encoding":{"text":{"field":"t"}}},
{"data":{"name":"AS"},"mark":{"type":"text","font":"Liberation Serif","fontSize":26,"align":"left","baseline":"middle","color":"black"},"encoding":{"text":{"field":"t"}}}
]
},
{
"width":522,"height":448,
"encoding":{
"x":{"field":"x","type":"quantitative","scale":{"domain":[0,30.4],"nice":false,"zero":false},"axis":{"values":[0,1,2,3,4,5,6,7,8,9,10,11,12,13,14,15,16,17,18,19,20,21,22,23,24,25,26,27,28,29,30],"tickSize":{"condition":{"test":"datum.value % 5 === 0","value":10},"value":5},"labelExpr":"datum.value % 10 === 0 ? datum.label : ''","title":"°2θ","labelPadding":1,"titlePadding":-17}},
"y":{"field":"y","type":"quantitative","scale":{"domain":[0,1287],"nice":false,"zero":false},"axis":{"values":[0,100,200,300,400,500,600,700,800,900,1000,1100,1200],"tickSize":{"condition":{"test":"datum.value % 200 === 0","value":8},"value":4},"labelExpr":"datum.value % 200 === 0 ? datum.label : ''","title":"Counts","titlePadding":7,"labelPadding":2}}
},
"layer":[
{"data":{"name":"B"},"mark":{"type":"line","color":"black","strokeWidth":1.9,"clip":true},"encoding":{"detail":{"field":"s"}}},
{"data":{"name":"BR"},"mark":{"type":"rule","color":"black","strokeWidth":1.5},"encoding":{"y2":{"field":"y2"}}},
{"data":{"name":"BL"},"mark":{"type":"text","font":"DejaVu Sans","fontSize":20,"align":"center","baseline":"middle","color":"black"},"encoding":{"text":{"field":"t"}}},
{"data":{"name":"BS"},"mark":{"type":"text","font":"Liberation Serif","fontSize":26,"align":"left","baseline":"middle","color":"black"},"encoding":{"text":{"field":"t"}}}
]
}
],
"spacing":117,
"bounds":"flush"
}
